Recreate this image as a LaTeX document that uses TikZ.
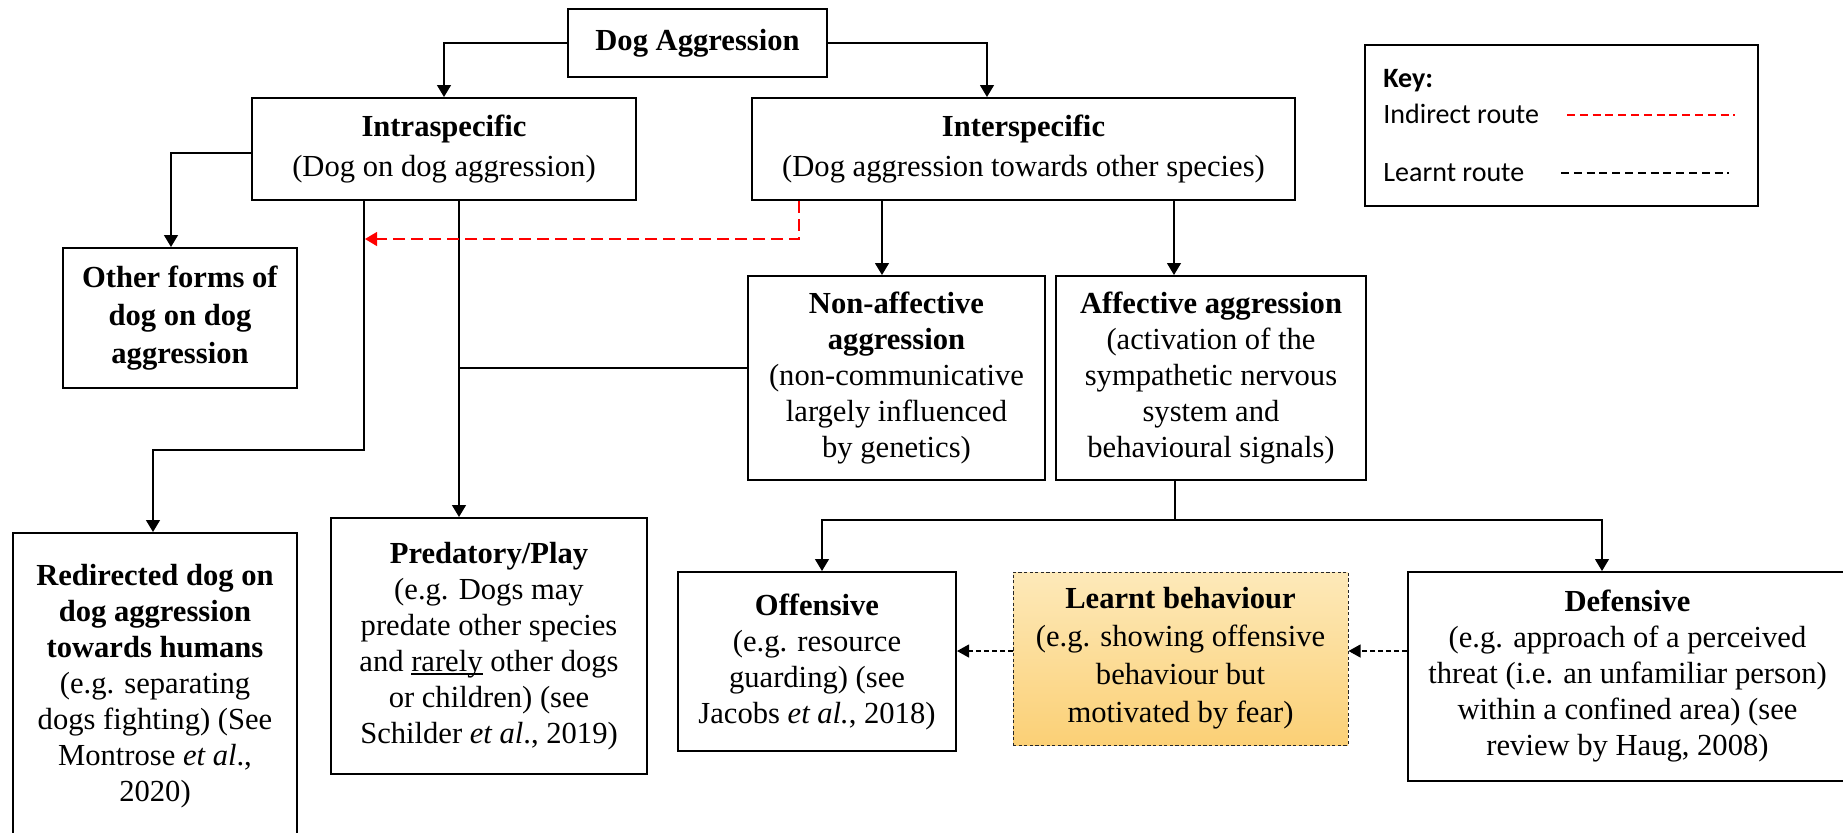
\documentclass[tikz,border=0pt]{standalone}
\usepackage{fontspec}
\setmainfont{Liberation Serif}
\newfontfamily\keyfont{Carlito}
\usetikzlibrary{arrows.meta,calc}
\definecolor{lbTop}{RGB}{253,233,185}
\definecolor{lbBot}{RGB}{251,208,118}
\newcommand\myul[1]{\setbox0\hbox{#1}\rlap{\rule[-1.6pt]{\wd0}{0.6pt}}\box0\relax}
\begin{document}
\begin{tikzpicture}[x=0.5pt,y=-0.5pt,
  box/.style={draw, line width=1pt, align=center, inner sep=0pt,
    font=\fontsize{15.3}{18}\selectfont},
  conn/.style={line width=0.6pt, -{Triangle[length=6pt,width=7pt]}},
  plain/.style={line width=0.6pt},
  redconn/.style={conn, red, dash pattern=on 6pt off 3pt},
  dconn/.style={line width=0.6pt, dash pattern=on 2.3pt off 1.7pt, -{Triangle[length=6pt,width=6.5pt]}},
  keytext/.style={font=\keyfont\fontsize{14}{16}\selectfont, inner sep=0pt},
  keyline/.style={line width=1.2pt, dash pattern=on 4pt off 2.4pt}
]
\useasboundingbox (0,0) rectangle (1843,832);
\clip (0,0) rectangle (1843,832);

% nodes
\node[box, minimum width=129.5pt, minimum height=34pt] (agg) at (697.5,43) {\textbf{Dog Aggression}};
\node[box, minimum width=192pt, minimum height=51pt, font=\fontsize{15.3}{20}\selectfont] (intra) at (444,149)
  {\textbf{Intraspecific}\\(Dog on dog aggression)};
\node[box, minimum width=271.5pt, minimum height=51pt, font=\fontsize{15.3}{20}\selectfont] (inter) at (1023.5,149)
  {\textbf{Interspecific}\\(Dog aggression towards other species)};
\node[box, minimum width=117pt, minimum height=70pt, font=\fontsize{15.3}{19}\selectfont] (other) at (180,318)
  {\textbf{Other forms of}\\\textbf{dog on dog}\\\textbf{aggression}};
\node[box, minimum width=148.5pt, minimum height=102pt] (nonaff) at (896.5,378)
  {\textbf{Non-affective}\\\textbf{aggression}\\(non-communicative\\largely influenced\\by genetics)};
\node[box, minimum width=155pt, minimum height=102pt] (aff) at (1211,378)
  {\textbf{Affective aggression}\\(activation of the\\sympathetic nervous\\system and\\behavioural signals)};
\node[box, minimum width=142pt, minimum height=153.5pt] (redir) at (155,686.5)
  {\textbf{Redirected dog on}\\\textbf{dog aggression}\\\textbf{towards humans}\\(e.g. separating\\dogs fighting) (See\\Montrose \textit{et al}.,\\2020)};
\node[box, minimum width=158pt, minimum height=128pt] (pred) at (489,646)
  {\textbf{Predatory/Play}\\(e.g. Dogs may\\predate other species\\and \myul{rarely} other dogs\\or children) (see\\Schilder \textit{et al}., 2019)};
\node[box, minimum width=139pt, minimum height=89.5pt] (off) at (817,661.5)
  {\textbf{Offensive}\\(e.g. resource\\guarding) (see\\Jacobs \textit{et al.}, 2018)};
\node[box, line width=0.5pt, draw=black!85, dash pattern=on 1.6pt off 1.2pt,
  top color=lbTop, bottom color=lbBot,
  minimum width=167.5pt, minimum height=86.5pt, font=\fontsize{15.3}{19}\selectfont] (learnt) at (1180.5,658.5)
  {\textbf{Learnt behaviour}\\(e.g. showing offensive\\behaviour but\\motivated by fear)};
\node[box, minimum width=219.5pt, minimum height=104.5pt] (def) at (1627.5,676.5)
  {\textbf{Defensive}\\(e.g. approach of a perceived\\threat (i.e. an unfamiliar person)\\within a confined area) (see\\review by Haug, 2008)};

% key
\node[draw, line width=1pt, minimum width=196.5pt, minimum height=80.5pt, inner sep=0pt] (key) at (1561.5,125.5) {};
\node[keytext, anchor=base west] (k1) at (1383,87) {\bfseries Key:};
\node[keytext, anchor=base west] (k2) at (1383,123) {Indirect route};
\node[keytext, anchor=base west] (k3) at (1383,181) {Learnt route};
\coordinate (kr1) at (1567,115);
\coordinate (kr2) at (1735,115);
\coordinate (kb1) at (1561,173);
\coordinate (kb2) at (1729,173);
\draw[keyline, red] (kr1) -- (kr2);
\draw[keyline, black] (kb1) -- (kb2);

% connectors
\draw[conn] (agg.west) -| (intra.north);
\draw[conn] (agg.east) -| ($(inter.north)+(-36.5,0)$);
\draw[conn] ($(intra.west)+(0,4)$) -| ($(other.north)+(-9,0)$);

\coordinate (rv) at ($(intra.south)+(-80,0)$);
\draw[conn] (rv) -- ($(rv)+(0,249)$) -| ($(redir.north)+(-2,0)$);

\coordinate (pv) at ($(intra.south)+(15,0)$);
\draw[conn] (pv) -- (pv |- pred.north);
\coordinate (nh) at ($(nonaff.west)+(0,-10)$);
\draw[plain] (nh) -- (nh -| pv);

\coordinate (nv) at ($(inter.south)+(-141.5,0)$);
\draw[conn] (nv) -- (nv |- nonaff.north);
\coordinate (av) at ($(aff.north)+(-37,0)$);
\draw[conn] (av |- inter.south) -- (av);

\coordinate (bj) at ($(aff.south)+(-36,39)$);
\draw[plain] (bj |- aff.south) -- (bj);
\draw[conn] (bj) -| ($(off.north)+(5,0)$);
\draw[conn] (bj) -| ($(def.north)+(-25.5,0)$);

\coordinate (rs) at ($(inter.south)+(-224.5,0)$);
\coordinate (rc) at ($(rs)+(0,38)$);
\coordinate (rend) at (rc -| rv);
\draw[redconn] (rs) -- (rc) -- ($(rend)+(1,0)$);

\coordinate (la) at ($(learnt.west)+(0,-7.5)$);
\draw[dconn] (la) -- (la -| off.east);
\draw[dconn] (la -| def.west) -- (la -| learnt.east);
\end{tikzpicture}
\end{document}
